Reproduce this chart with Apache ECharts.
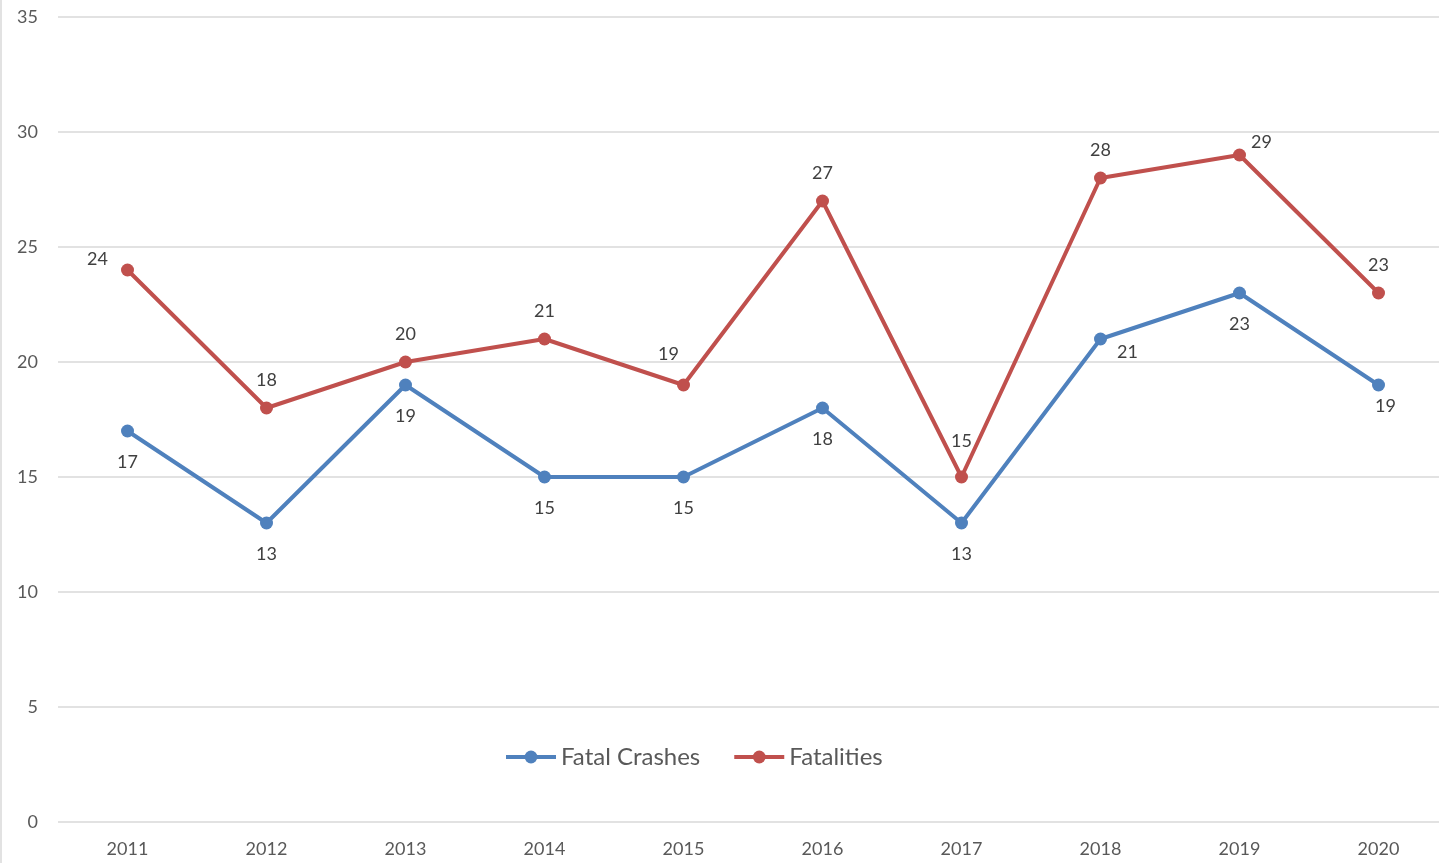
<!DOCTYPE html>
<html>
<head>
<meta charset="utf-8" />
<title>Fatal Crashes and Fatalities</title>
<script src="https://cdn.jsdelivr.net/npm/echarts@6/dist/echarts.min.js"></script>
<style>
  html, body { margin: 0; padding: 0; background: #fff; overflow: hidden; }
  /* plot runs a little past the right edge of the window, like the original */
  #chart { width: 1448px; height: 863px; }
</style>
</head>
<body>
<div id="chart"></div>
<script>
// data
var years = ['2011', '2012', '2013', '2014', '2015', '2016', '2017', '2018', '2019', '2020'];
var fatalCrashes = [17, 13, 19, 15, 15, 18, 13, 21, 23, 19];
var fatalities = [24, 18, 20, 21, 19, 27, 15, 28, 29, 23];

// label tweaks per point (which side the number sits on)
var crashLabelFix = {
  7: { position: 'right', distance: 10, offset: [0, 13] },
  9: { offset: [7, -10] }
};
var fatalLabelFix = {
  0: { offset: [-30, 17] },
  4: { offset: [-15, -3] },
  6: { offset: [0, -8] },
  8: { offset: [22, 15] }
};

function withLabels(values, fixes) {
  return values.map(function (v, i) {
    var item = { value: v };
    if (fixes[i]) item.label = fixes[i];
    return item;
  });
}

var font = 'Lato, "Open Sans", sans-serif';
var myChart = echarts.init(document.getElementById('chart'));

myChart.setOption({
  animation: false,
  textStyle: { fontFamily: font },
  grid: { left: 58, right: 0, top: 17, bottom: 41, containLabel: false },
  graphic: [{
    type: 'line',
    shape: { x1: 1, y1: 0, x2: 1, y2: 863 },
    style: { stroke: '#d9d9d9', lineWidth: 1.5 }
  }],
  legend: {
    left: 499,
    top: 740,
    itemWidth: 50,
    itemHeight: 16,
    itemGap: 32,
    lineStyle: { width: 4 },
    textStyle: { fontSize: 24, color: '#595959', fontFamily: font },
    data: ['Fatal Crashes', 'Fatalities']
  },
  xAxis: {
    type: 'category',
    data: years,
    boundaryGap: true,
    axisLine: { show: false },
    axisTick: { show: false },
    axisLabel: { color: '#595959', fontSize: 18, margin: 18, fontFamily: font }
  },
  yAxis: {
    type: 'value',
    min: 0,
    max: 35,
    interval: 5,
    axisLine: { show: false },
    axisTick: { show: false },
    axisLabel: { color: '#595959', fontSize: 18, margin: 20, fontFamily: font },
    splitLine: { lineStyle: { color: '#d9d9d9', width: 1.5 } }
  },
  series: [{
    name: 'Fatal Crashes',
    type: 'line',
    data: withLabels(fatalCrashes, crashLabelFix),
    symbol: 'circle',
    symbolSize: 13,
    lineStyle: { color: '#4F81BD', width: 4 },
    itemStyle: { color: '#4F81BD' },
    label: { show: true, position: 'bottom', distance: 16, color: '#404040', fontSize: 18, fontFamily: font }
  }, {
    name: 'Fatalities',
    type: 'line',
    data: withLabels(fatalities, fatalLabelFix),
    symbol: 'circle',
    symbolSize: 13,
    lineStyle: { color: '#C0504D', width: 4 },
    itemStyle: { color: '#C0504D' },
    label: { show: true, position: 'top', distance: 12, color: '#404040', fontSize: 18, fontFamily: font }
  }]
});

window.onresize = function () {
  myChart.resize();
};
</script>
</body>
</html>
